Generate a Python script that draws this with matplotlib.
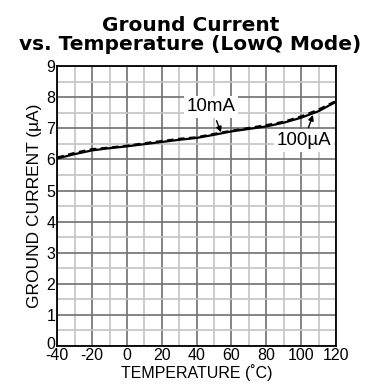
import matplotlib
matplotlib.use("Agg")
import matplotlib.pyplot as plt
import matplotlib.transforms as mtransforms
import numpy as np

plt.rcParams['font.family'] = ['Liberation Sans', 'DejaVu Sans']
plt.rcParams['axes.unicode_minus'] = False

temp = [-40, -30, -20, -10, 0, 10, 20, 30, 40, 50, 60, 70, 80, 90, 100, 110, 120]
i_10mA = [6.03, 6.17, 6.29, 6.36, 6.42, 6.49, 6.56, 6.63, 6.69, 6.79, 6.90, 6.98, 7.06, 7.18, 7.34, 7.55, 7.85]
i_100uA = [6.06, 6.21, 6.33, 6.38, 6.44, 6.52, 6.59, 6.66, 6.71, 6.82, 6.92, 7.01, 7.10, 7.21, 7.38, 7.60, 7.88]

fig = plt.figure(figsize=(3.70, 3.91), dpi=100)
ax = fig.add_axes([0.155, 0.115, 0.753, 0.716])

ax.plot(temp, i_10mA, color='black', lw=1.6, zorder=3)
ax.plot(temp, i_100uA, color='black', lw=1.6, ls=(0, (3, 2)), zorder=3)

ax.set_xlim(-40, 120)
ax.set_ylim(0, 9)
ax.set_xticks(np.arange(-40, 121, 20))
ax.set_yticks(np.arange(0, 10, 1))
ax.set_xticks(np.arange(-30, 120, 20), minor=True)
ax.set_yticks(np.arange(0.5, 9, 1), minor=True)
ax.grid(which='major', color='#707070', lw=1.2)
ax.grid(which='minor', color='#c4c4c4', lw=1.2)
ax.tick_params(which='both', length=0, labelsize=11.5, pad=1.5)
for s in ax.spines.values():
    s.set_linewidth(1.3)
    s.set_color('black')

ax.set_xlabel('TEMPERATURE (˚C)', fontsize=11.5, labelpad=1)
ax.set_ylabel('GROUND CURRENT (µA)', fontsize=12.5, labelpad=3)
fig.text(0.515, 0.958, 'Ground Current\nvs. Temperature (LowQ Mode)', ha='center', va='top',
         fontsize=14.5, fontweight='bold', linespacing=1.0,
         family=['DejaVu Sans'])

fig.canvas.draw()
zero_lbl = ax.get_yticklabels()[0]
zero_lbl.set_transform(zero_lbl.get_transform() +
                       mtransforms.ScaledTranslation(0, 3 / 100, fig.dpi_scale_trans))

ax.annotate('10mA', xy=(54, 6.87), xytext=(48.3, 7.69), ha='center', va='center', fontsize=13.5,
            bbox=dict(facecolor='white', edgecolor='none', pad=2),
            arrowprops=dict(arrowstyle='-|>', color='black', lw=1, mutation_scale=8,
                            shrinkA=2, shrinkB=0), zorder=4)
ax.annotate('100µA', xy=(106.8, 7.43), xytext=(101.6, 6.61), ha='center', va='center', fontsize=13.5,
            bbox=dict(facecolor='white', edgecolor='none', pad=2),
            arrowprops=dict(arrowstyle='-|>', color='black', lw=1, mutation_scale=8,
                            shrinkA=1, shrinkB=0), zorder=4)

fig.savefig('out.png', dpi=100)
